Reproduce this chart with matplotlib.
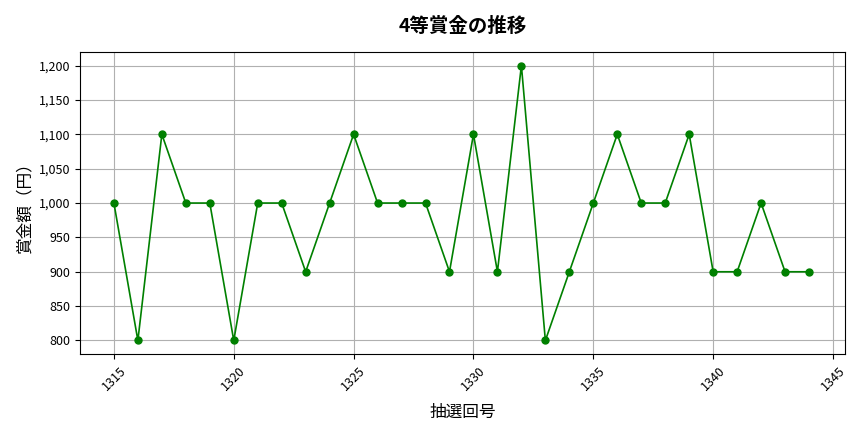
import matplotlib
matplotlib.use("Agg")
import matplotlib.pyplot as plt
from matplotlib.ticker import FuncFormatter

plt.rcParams['font.family'] = ['Noto Sans CJK JP', 'DejaVu Sans']

# draw numbers and 4th prize amounts (yen)
draws = list(range(1315, 1345))
prize = [1000, 800, 1100, 1000, 1000, 800, 1000, 1000, 900, 1000,
         1100, 1000, 1000, 1000, 900, 1100, 900, 1200, 800, 900,
         1000, 1100, 1000, 1000, 1100, 900, 900, 1000, 900, 900]

fig, ax = plt.subplots(figsize=(8.64, 4.32), dpi=100)
ax.plot(draws, prize, color='green', marker='o', markersize=5, linewidth=1.2)

ax.set_title('4等賞金の推移', fontsize=14, fontweight='bold', pad=14)
ax.set_xlabel('抽選回号', fontsize=12, labelpad=8)
ax.set_ylabel('賞金額（円）', fontsize=12)
ax.yaxis.set_major_formatter(FuncFormatter(lambda v, p: f'{int(v):,}'))
ax.set_xticks(range(1315, 1346, 5))
ax.tick_params(axis='x', labelrotation=45, labelsize=9)
ax.tick_params(axis='y', labelsize=9)
ax.set_xlim(1313.6, 1345.5)
ax.set_ylim(780, 1220)
ax.grid(True, color='#b0b0b0', linewidth=0.8)

plt.subplots_adjust(left=0.093, right=0.978, top=0.88, bottom=0.18)
plt.savefig('out.png', dpi=100)
